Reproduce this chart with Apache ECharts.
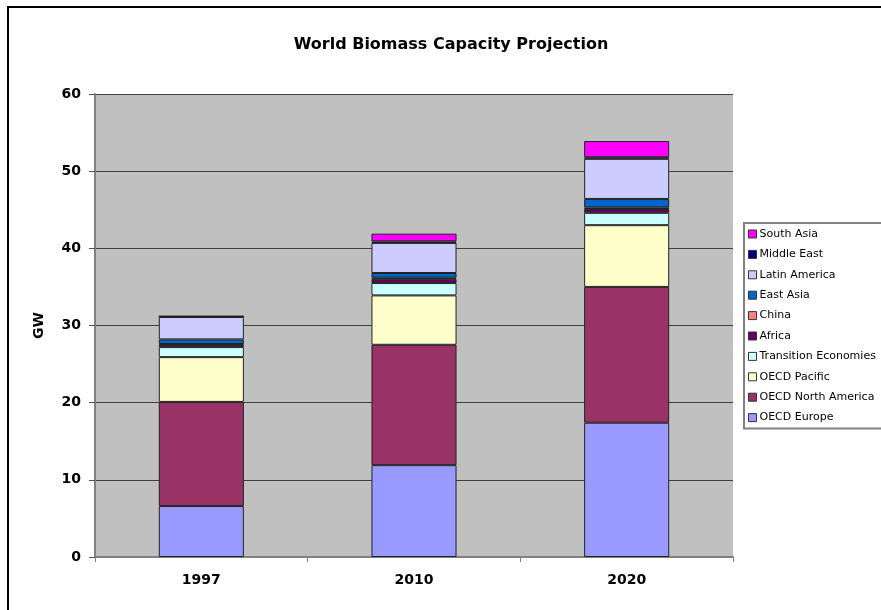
<!DOCTYPE html>
<html>
<head>
<meta charset="utf-8">
<title>World Biomass Capacity Projection</title>
<script src="https://cdn.jsdelivr.net/npm/echarts@6/dist/echarts.min.js"></script>
<style>
  html, body { margin: 0; padding: 0; background: #fff; }
  #chart { width: 881px; height: 610px; }
</style>
</head>
<body>
<div id="chart"></div>
<script>
// Projection years
const years = ['1997', '2010', '2020'];

// Installed biomass capacity by region, GW (stacked bottom to top)
const oecdEurope        = [6.6, 11.9, 17.4];
const oecdNorthAmerica  = [13.5, 15.6, 17.6];
const oecdPacific       = [5.8, 6.4, 8.0];
const transitionEcon    = [1.3, 1.6, 1.6];
const africa            = [0.3, 0.5, 0.5];
const china             = [0.1, 0.2, 0.2];
const eastAsia          = [0.6, 0.6, 1.1];
const latinAmerica      = [2.9, 3.9, 5.2];
const middleEast        = [0.1, 0.2, 0.2];
const southAsia         = [0.0, 1.0, 2.1];

const yTicks = [0, 10, 20, 30, 40, 50, 60];

const regions = [
  { name: 'OECD Europe',          data: oecdEurope,       color: '#9999FF' },
  { name: 'OECD North America',   data: oecdNorthAmerica, color: '#993366' },
  { name: 'OECD Pacific',         data: oecdPacific,      color: '#FFFFCC' },
  { name: 'Transition Economies', data: transitionEcon,   color: '#CCFFFF' },
  { name: 'Africa',               data: africa,           color: '#660066' },
  { name: 'China',                data: china,            color: '#FF8080' },
  { name: 'East Asia',            data: eastAsia,         color: '#0066CC' },
  { name: 'Latin America',        data: latinAmerica,     color: '#CCCCFF' },
  { name: 'Middle East',          data: middleEast,       color: '#000080' },
  { name: 'South Asia',           data: southAsia,        color: '#FF00FF' }
];

const chart = echarts.init(document.getElementById('chart'), null, { renderer: 'canvas' });

const font = 'DejaVu Sans';

chart.setOption({
  backgroundColor: '#ffffff',
  animation: false,
  title: {
    text: 'World Biomass Capacity Projection',
    left: 446,
    top: 32,
    textAlign: 'center',
    textStyle: { fontFamily: font, fontSize: 16, fontWeight: 'bold', color: '#000' }
  },
  graphic: [
    {
      type: 'polyline',
      shape: { points: [[8, 610], [8, 7], [881, 7]] },
      style: { stroke: '#000', lineWidth: 2, fill: null },
      silent: true
    }
  ],
  legend: {
    orient: 'vertical',
    left: 744,
    top: 223,
    data: regions.map(r => r.name).reverse(),
    icon: 'rect',
    itemWidth: 8,
    itemHeight: 8,
    itemGap: 6.4,
    padding: [4, 8, 4, 4],
    borderColor: '#808080',
    borderWidth: 2,
    backgroundColor: '#fff',
    itemStyle: { borderColor: '#333', borderWidth: 1 },
    textStyle: { fontFamily: font, fontSize: 11, color: '#000', lineHeight: 14, padding: [0, 0, 0, -2] }
  },
  grid: {
    left: 95,
    right: 148,
    top: 94,
    bottom: 53,
    show: true,
    backgroundColor: '#C0C0C0',
    borderWidth: 0
  },
  xAxis: {
    type: 'category',
    data: years,
    axisLine: { lineStyle: { color: '#808080', width: 2 } },
    axisTick: { show: true, length: 5, lineStyle: { color: '#808080', width: 1 } },
    axisLabel: { margin: 16, fontFamily: font, fontSize: 14, fontWeight: 'bold', color: '#000' }
  },
  yAxis: {
    type: 'value',
    min: yTicks[0],
    max: yTicks[yTicks.length - 1],
    interval: 10,
    name: 'GW',
    nameLocation: 'middle',
    nameGap: 49,
    nameTextStyle: { fontFamily: font, fontSize: 14, fontWeight: 'bold', color: '#000' },
    axisLine: { show: true, lineStyle: { color: '#808080', width: 2 } },
    axisTick: { show: true, length: 6, lineStyle: { color: '#505050', width: 1 } },
    splitLine: { show: true, lineStyle: { color: '#404040', width: 1 } },
    axisLabel: { margin: 14, fontFamily: font, fontSize: 14, fontWeight: 'bold', color: '#000' }
  },
  series: regions.map(r => ({
    name: r.name,
    type: 'bar',
    stack: 'total',
    barWidth: '40%',
    data: r.data,
    itemStyle: { color: r.color, borderColor: '#222', borderWidth: 1 }
  }))
});
</script>
</body>
</html>
